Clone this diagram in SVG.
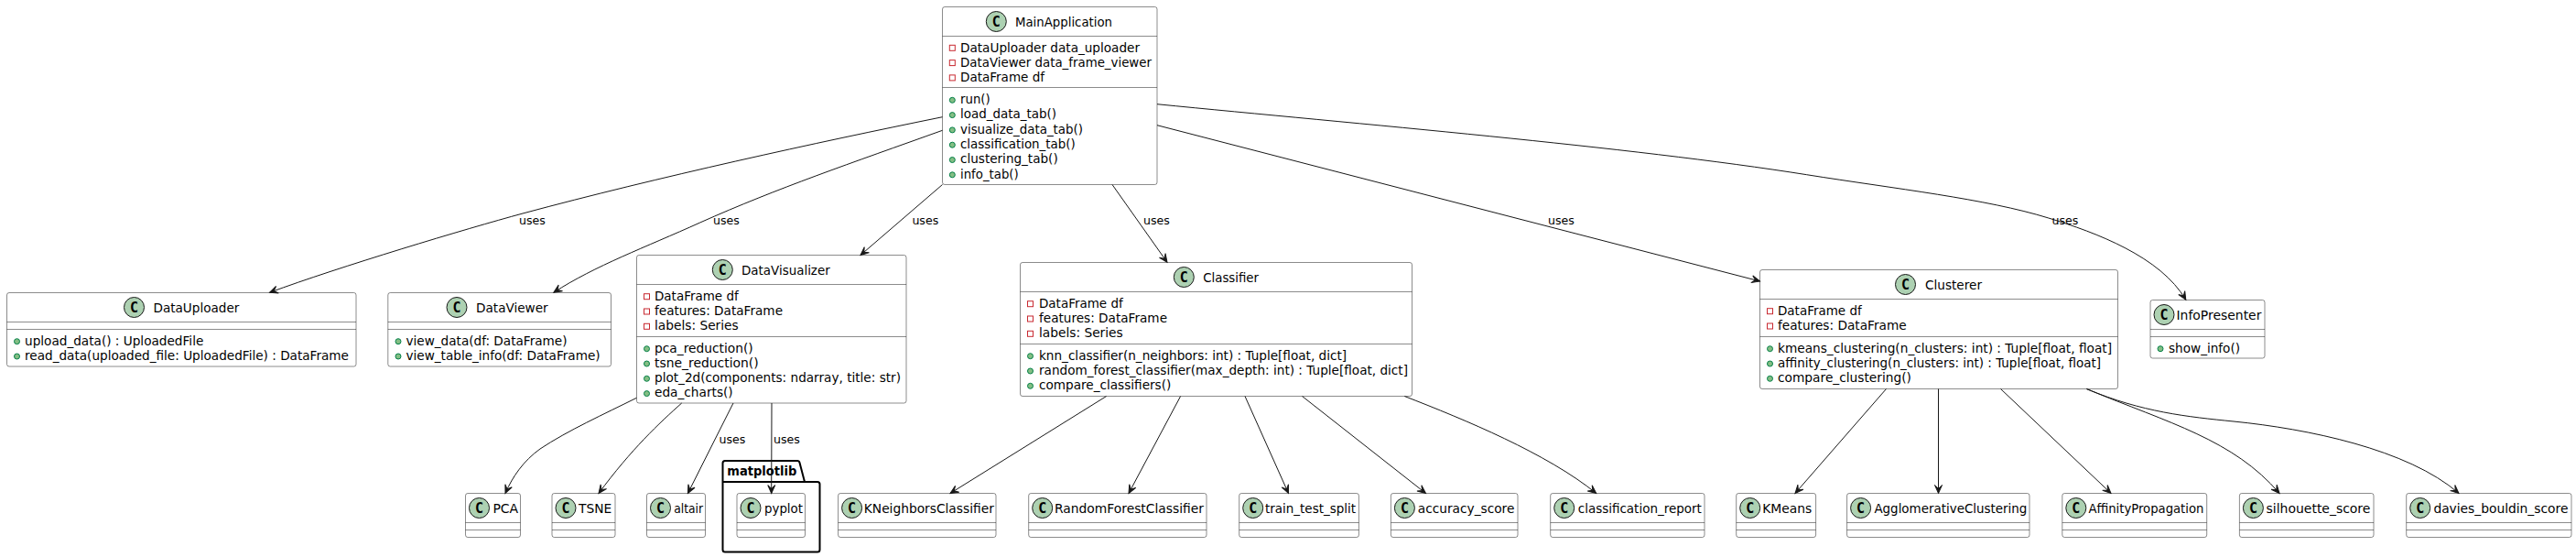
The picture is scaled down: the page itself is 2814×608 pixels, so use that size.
<svg xmlns="http://www.w3.org/2000/svg" width="2814" height="608" viewBox="0 0 2814 608">
<style>
text{font-family:"DejaVu Sans",sans-serif;font-size:13.6px;fill:#000}
.box{fill:#fff;stroke:#181818;stroke-width:.5}
.div{stroke:#181818;stroke-width:.5}
.spot{fill:#ADD1B2;stroke:#181818;stroke-width:1}
text.c{font-family:"DejaVu Sans Mono",monospace;font-weight:bold;font-size:15px;text-anchor:middle}
text.lbl{font-size:12.6px}
text.pk{font-weight:bold}
.pkg{fill:#fff;stroke:#000;stroke-width:2}
.edge{fill:none;stroke:#181818;stroke-width:1;marker-end:url(#arr)}
</style>
<defs>
<marker id="arr" markerUnits="userSpaceOnUse" markerWidth="12" markerHeight="10" refX="9" refY="4" orient="auto" overflow="visible"><path d="M9,4 L0,0 L4,4 L0,8 Z" fill="#181818" stroke="#181818" stroke-width="1"/></marker>
<rect id="priv" x="-3" y="-3" width="6" height="6" fill="none" stroke="#C82930" stroke-width="1"/>
<circle id="pub" r="3" fill="#84BE84" stroke="#038048" stroke-width="1"/>
</defs>

<g id="MainApplication">
<rect class="box" x="1029.5" y="7.5" width="234.5" height="194" rx="2.5"/>
<line class="div" x1="1029.5" x2="1264" y1="39.5" y2="39.5"/><line class="div" x1="1029.5" x2="1264" y1="95.5" y2="95.5"/>
<circle class="spot" cx="1088.3" cy="23.5" r="11"/><text class="c" x="1088.3" y="28.5">C</text>
<text x="1109" y="28.5" textLength="106" lengthAdjust="spacingAndGlyphs">MainApplication</text>
<use href="#priv" x="1040.3" y="52.3"/><text x="1049" y="56.5" textLength="196" lengthAdjust="spacingAndGlyphs">DataUploader data_uploader</text>
<use href="#priv" x="1040.3" y="68.6"/><text x="1049" y="72.8" textLength="209" lengthAdjust="spacingAndGlyphs">DataViewer data_frame_viewer</text>
<use href="#priv" x="1040.3" y="84.9"/><text x="1049" y="89.1" textLength="92" lengthAdjust="spacingAndGlyphs">DataFrame df</text>
<use href="#pub" x="1040.3" y="109.3"/><text x="1049" y="113" textLength="32.7" lengthAdjust="spacingAndGlyphs">run()</text>
<use href="#pub" x="1040.3" y="125.6"/><text x="1049" y="129.3" textLength="105" lengthAdjust="spacingAndGlyphs">load_data_tab()</text>
<use href="#pub" x="1040.3" y="141.9"/><text x="1049" y="145.6" textLength="134" lengthAdjust="spacingAndGlyphs">visualize_data_tab()</text>
<use href="#pub" x="1040.3" y="158.2"/><text x="1049" y="161.9" textLength="125.7" lengthAdjust="spacingAndGlyphs">classification_tab()</text>
<use href="#pub" x="1040.3" y="174.5"/><text x="1049" y="178.2" textLength="106.7" lengthAdjust="spacingAndGlyphs">clustering_tab()</text>
<use href="#pub" x="1040.3" y="190.8"/><text x="1049" y="194.5" textLength="63.7" lengthAdjust="spacingAndGlyphs">info_tab()</text>
</g>

<g id="DataUploader">
<rect class="box" x="7.5" y="319.5" width="381.5" height="80.5" rx="2.5"/>
<line class="div" x1="7.5" x2="389" y1="351.5" y2="351.5"/><line class="div" x1="7.5" x2="389" y1="359.5" y2="359.5"/>
<circle class="spot" cx="146.5" cy="335.5" r="11"/><text class="c" x="146.5" y="340.5">C</text>
<text x="167.5" y="340.5" textLength="93.8" lengthAdjust="spacingAndGlyphs">DataUploader</text>
<use href="#pub" x="18.5" y="372.7"/><text x="27" y="376.5" textLength="195.3" lengthAdjust="spacingAndGlyphs">upload_data() : UploadedFile</text>
<use href="#pub" x="18.5" y="389"/><text x="27" y="392.8" textLength="354" lengthAdjust="spacingAndGlyphs">read_data(uploaded_file: UploadedFile) : DataFrame</text>
</g>

<g id="DataViewer">
<rect class="box" x="423.8" y="319.5" width="243.7" height="80.5" rx="2.5"/>
<line class="div" x1="423.8" x2="667.5" y1="351.5" y2="351.5"/><line class="div" x1="423.8" x2="667.5" y1="359.5" y2="359.5"/>
<circle class="spot" cx="499" cy="335.5" r="11"/><text class="c" x="499" y="340.5">C</text>
<text x="520" y="340.5">DataViewer</text>
<use href="#pub" x="435" y="372.7"/><text x="443.5" y="376.5">view_data(df: DataFrame)</text>
<use href="#pub" x="435" y="389"/><text x="443.5" y="392.8">view_table_info(df: DataFrame)</text>
</g>

<g id="DataVisualizer">
<rect class="box" x="695.5" y="278.5" width="294.5" height="161.5" rx="2.5"/>
<line class="div" x1="695.5" x2="990" y1="310.5" y2="310.5"/><line class="div" x1="695.5" x2="990" y1="367.5" y2="367.5"/>
<circle class="spot" cx="789.3" cy="294.5" r="11"/><text class="c" x="789.3" y="299.5">C</text>
<text x="810" y="299.5" textLength="96.7" lengthAdjust="spacingAndGlyphs">DataVisualizer</text>
<use href="#priv" x="706.5" y="323.7"/><text x="715" y="327.5" textLength="91.7" lengthAdjust="spacingAndGlyphs">DataFrame df</text>
<use href="#priv" x="706.5" y="340"/><text x="715" y="343.8" textLength="140" lengthAdjust="spacingAndGlyphs">features: DataFrame</text>
<use href="#priv" x="706.5" y="356.3"/><text x="715" y="360.1" textLength="91.7" lengthAdjust="spacingAndGlyphs">labels: Series</text>
<use href="#pub" x="706.5" y="380.7"/><text x="715" y="384.5" textLength="107.7" lengthAdjust="spacingAndGlyphs">pca_reduction()</text>
<use href="#pub" x="706.5" y="397"/><text x="715" y="400.8" textLength="113.7" lengthAdjust="spacingAndGlyphs">tsne_reduction()</text>
<use href="#pub" x="706.5" y="413.3"/><text x="715" y="417.1" textLength="269" lengthAdjust="spacingAndGlyphs">plot_2d(components: ndarray, title: str)</text>
<use href="#pub" x="706.5" y="429.6"/><text x="715" y="433.4" textLength="85.7" lengthAdjust="spacingAndGlyphs">eda_charts()</text>
</g>

<g id="Classifier">
<rect class="box" x="1114.5" y="286.5" width="428" height="146" rx="2.5"/>
<line class="div" x1="1114.5" x2="1542.5" y1="318.5" y2="318.5"/><line class="div" x1="1114.5" x2="1542.5" y1="375.5" y2="375.5"/>
<circle class="spot" cx="1293.3" cy="302.5" r="11"/><text class="c" x="1293.3" y="307.5">C</text>
<text x="1314.3" y="307.5" textLength="60.7" lengthAdjust="spacingAndGlyphs">Classifier</text>
<use href="#priv" x="1125.5" y="331.7"/><text x="1135" y="335.5" textLength="91.7" lengthAdjust="spacingAndGlyphs">DataFrame df</text>
<use href="#priv" x="1125.5" y="348"/><text x="1135" y="351.8" textLength="140" lengthAdjust="spacingAndGlyphs">features: DataFrame</text>
<use href="#priv" x="1125.5" y="364.3"/><text x="1135" y="368.1" textLength="91.7" lengthAdjust="spacingAndGlyphs">labels: Series</text>
<use href="#pub" x="1125.5" y="388.7"/><text x="1135" y="392.5">knn_classifier(n_neighbors: int) : Tuple[float, dict]</text>
<use href="#pub" x="1125.5" y="405"/><text x="1135" y="408.8" textLength="403" lengthAdjust="spacingAndGlyphs">random_forest_classifier(max_depth: int) : Tuple[float, dict]</text>
<use href="#pub" x="1125.5" y="421.3"/><text x="1135" y="425.1" textLength="144.3" lengthAdjust="spacingAndGlyphs">compare_classifiers()</text>
</g>

<g id="Clusterer">
<rect class="box" x="1922.5" y="294.5" width="391" height="130" rx="2.5"/>
<line class="div" x1="1922.5" x2="2313.5" y1="326.5" y2="326.5"/><line class="div" x1="1922.5" x2="2313.5" y1="367.5" y2="367.5"/>
<circle class="spot" cx="2081.5" cy="310.5" r="11"/><text class="c" x="2081.5" y="315.5">C</text>
<text x="2103" y="315.5" textLength="62" lengthAdjust="spacingAndGlyphs">Clusterer</text>
<use href="#priv" x="1933.5" y="339.7"/><text x="1942" y="343.5" textLength="91.7" lengthAdjust="spacingAndGlyphs">DataFrame df</text>
<use href="#priv" x="1933.5" y="356"/><text x="1942" y="359.8" textLength="140.6" lengthAdjust="spacingAndGlyphs">features: DataFrame</text>
<use href="#pub" x="1933.5" y="380.7"/><text x="1942" y="384.5" textLength="365" lengthAdjust="spacingAndGlyphs">kmeans_clustering(n_clusters: int) : Tuple[float, float]</text>
<use href="#pub" x="1933.5" y="397"/><text x="1942" y="400.8" textLength="353" lengthAdjust="spacingAndGlyphs">affinity_clustering(n_clusters: int) : Tuple[float, float]</text>
<use href="#pub" x="1933.5" y="413.3"/><text x="1942" y="417.1" textLength="146" lengthAdjust="spacingAndGlyphs">compare_clustering()</text>
</g>

<g id="InfoPresenter">
<rect class="box" x="2349" y="327.5" width="125" height="63.5" rx="2.5"/>
<line class="div" x1="2349" x2="2474" y1="359.5" y2="359.5"/><line class="div" x1="2349" x2="2474" y1="367.5" y2="367.5"/>
<circle class="spot" cx="2364" cy="343.5" r="11"/><text class="c" x="2364" y="348.5">C</text>
<text x="2377.5" y="348.5" textLength="92.9" lengthAdjust="spacingAndGlyphs">InfoPresenter</text>
<use href="#pub" x="2360" y="380.7"/><text x="2369" y="384.5">show_info()</text>
</g>

<g id="matplotlib">
<path class="pkg" d="M789.5,526 V505.5 Q789.5,503 792,503 H871 Q873,503 873.5,505 L879,526 H893 Q895.5,526 895.5,528.5 V600 Q895.5,602.5 893,602.5 H792 Q789.5,602.5 789.5,600 Z M789.5,526 H879"/>
<text class="pk" x="794.3" y="518.5" textLength="76" lengthAdjust="spacingAndGlyphs">matplotlib</text>
</g>

<g id="PCA"><rect class="box" x="508.5" y="538.5" width="60" height="48" rx="2.5"/><line class="div" x1="508.5" x2="568.5" y1="570.5" y2="570.5"/><line class="div" x1="508.5" x2="568.5" y1="578.5" y2="578.5"/><circle class="spot" cx="523.5" cy="554.5" r="11"/><text class="c" x="523.5" y="559.5">C</text><text x="538.4" y="559.5" textLength="27.8" lengthAdjust="spacingAndGlyphs">PCA</text></g>
<g id="TSNE"><rect class="box" x="603" y="538.5" width="69" height="48" rx="2.5"/><line class="div" x1="603" x2="672" y1="570.5" y2="570.5"/><line class="div" x1="603" x2="672" y1="578.5" y2="578.5"/><circle class="spot" cx="618" cy="554.5" r="11"/><text class="c" x="618" y="559.5">C</text><text x="632" y="559.5" textLength="36.3" lengthAdjust="spacingAndGlyphs">TSNE</text></g>
<g id="altair"><rect class="box" x="706.5" y="538.5" width="64" height="48" rx="2.5"/><line class="div" x1="706.5" x2="770.5" y1="570.5" y2="570.5"/><line class="div" x1="706.5" x2="770.5" y1="578.5" y2="578.5"/><circle class="spot" cx="721.5" cy="554.5" r="11"/><text class="c" x="721.5" y="559.5">C</text><text x="736.3" y="559.5" textLength="31.8" lengthAdjust="spacingAndGlyphs">altair</text></g>
<g id="pyplot"><rect class="box" x="805" y="538.5" width="74.5" height="48" rx="2.5"/><line class="div" x1="805" x2="879.5" y1="570.5" y2="570.5"/><line class="div" x1="805" x2="879.5" y1="578.5" y2="578.5"/><circle class="spot" cx="820" cy="554.5" r="11"/><text class="c" x="820" y="559.5">C</text><text x="835" y="559.5" textLength="42" lengthAdjust="spacingAndGlyphs">pyplot</text></g>
<g id="KNeighborsClassifier"><rect class="box" x="915.6" y="538.5" width="172.4" height="48" rx="2.5"/><line class="div" x1="915.6" x2="1088" y1="570.5" y2="570.5"/><line class="div" x1="915.6" x2="1088" y1="578.5" y2="578.5"/><circle class="spot" cx="930.6" cy="554.5" r="11"/><text class="c" x="930.6" y="559.5">C</text><text x="943.8" y="559.5" textLength="142" lengthAdjust="spacingAndGlyphs">KNeighborsClassifier</text></g>
<g id="RandomForestClassifier"><rect class="box" x="1123.7" y="538.5" width="194.3" height="48" rx="2.5"/><line class="div" x1="1123.7" x2="1318" y1="570.5" y2="570.5"/><line class="div" x1="1123.7" x2="1318" y1="578.5" y2="578.5"/><circle class="spot" cx="1138.7" cy="554.5" r="11"/><text class="c" x="1138.7" y="559.5">C</text><text x="1152" y="559.5" textLength="163" lengthAdjust="spacingAndGlyphs">RandomForestClassifier</text></g>
<g id="train_test_split"><rect class="box" x="1353.7" y="538.5" width="130.7" height="48" rx="2.5"/><line class="div" x1="1353.7" x2="1484.4" y1="570.5" y2="570.5"/><line class="div" x1="1353.7" x2="1484.4" y1="578.5" y2="578.5"/><circle class="spot" cx="1368.7" cy="554.5" r="11"/><text class="c" x="1368.7" y="559.5">C</text><text x="1382" y="559.5" textLength="99" lengthAdjust="spacingAndGlyphs">train_test_split</text></g>
<g id="accuracy_score"><rect class="box" x="1519.4" y="538.5" width="138.6" height="48" rx="2.5"/><line class="div" x1="1519.4" x2="1658" y1="570.5" y2="570.5"/><line class="div" x1="1519.4" x2="1658" y1="578.5" y2="578.5"/><circle class="spot" cx="1534.4" cy="554.5" r="11"/><text class="c" x="1534.4" y="559.5">C</text><text x="1548.8" y="559.5" textLength="105.6" lengthAdjust="spacingAndGlyphs">accuracy_score</text></g>
<g id="classification_report"><rect class="box" x="1693.7" y="538.5" width="168.3" height="48" rx="2.5"/><line class="div" x1="1693.7" x2="1862" y1="570.5" y2="570.5"/><line class="div" x1="1693.7" x2="1862" y1="578.5" y2="578.5"/><circle class="spot" cx="1708.7" cy="554.5" r="11"/><text class="c" x="1708.7" y="559.5">C</text><text x="1723.8" y="559.5" textLength="135" lengthAdjust="spacingAndGlyphs">classification_report</text></g>
<g id="KMeans"><rect class="box" x="1896.7" y="538.5" width="86.9" height="48" rx="2.5"/><line class="div" x1="1896.7" x2="1983.6" y1="570.5" y2="570.5"/><line class="div" x1="1896.7" x2="1983.6" y1="578.5" y2="578.5"/><circle class="spot" cx="1911.7" cy="554.5" r="11"/><text class="c" x="1911.7" y="559.5">C</text><text x="1925.3" y="559.5" textLength="54" lengthAdjust="spacingAndGlyphs">KMeans</text></g>
<g id="AgglomerativeClustering"><rect class="box" x="2017.6" y="538.5" width="199.4" height="48" rx="2.5"/><line class="div" x1="2017.6" x2="2217" y1="570.5" y2="570.5"/><line class="div" x1="2017.6" x2="2217" y1="578.5" y2="578.5"/><circle class="spot" cx="2032.6" cy="554.5" r="11"/><text class="c" x="2032.6" y="559.5">C</text><text x="2047.4" y="559.5" textLength="167" lengthAdjust="spacingAndGlyphs">AgglomerativeClustering</text></g>
<g id="AffinityPropagation"><rect class="box" x="2252.8" y="538.5" width="157.9" height="48" rx="2.5"/><line class="div" x1="2252.8" x2="2410.7" y1="570.5" y2="570.5"/><line class="div" x1="2252.8" x2="2410.7" y1="578.5" y2="578.5"/><circle class="spot" cx="2267.8" cy="554.5" r="11"/><text class="c" x="2267.8" y="559.5">C</text><text x="2281.4" y="559.5" textLength="126" lengthAdjust="spacingAndGlyphs">AffinityPropagation</text></g>
<g id="silhouette_score"><rect class="box" x="2446.4" y="538.5" width="146.6" height="48" rx="2.5"/><line class="div" x1="2446.4" x2="2593" y1="570.5" y2="570.5"/><line class="div" x1="2446.4" x2="2593" y1="578.5" y2="578.5"/><circle class="spot" cx="2461.4" cy="554.5" r="11"/><text class="c" x="2461.4" y="559.5">C</text><text x="2475.6" y="559.5" textLength="113.8" lengthAdjust="spacingAndGlyphs">silhouette_score</text></g>
<g id="davies_bouldin_score"><rect class="box" x="2628.7" y="538.5" width="180.3" height="48" rx="2.5"/><line class="div" x1="2628.7" x2="2809" y1="570.5" y2="570.5"/><line class="div" x1="2628.7" x2="2809" y1="578.5" y2="578.5"/><circle class="spot" cx="2643.7" cy="554.5" r="11"/><text class="c" x="2643.7" y="559.5">C</text><text x="2658.4" y="559.5" textLength="147" lengthAdjust="spacingAndGlyphs">davies_bouldin_score</text></g>

<g id="connectors">
<path class="edge" d="M1029.5,127.7 C890,156 720,193 571,233 C510,249.5 370,291.4 294.5,319.3"/>
<path class="edge" d="M1029.5,142.3 C930,178 850,205 764.7,243 C705,270 650,290 604.8,319.3"/>
<path class="edge" d="M1029.5,201.5 L940,278.5"/>
<path class="edge" d="M1215,201.5 L1275,286.3"/>
<path class="edge" d="M1264,136.7 L1922.5,307"/>
<path class="edge" d="M1264,113.7 C1480,135 1780,160 1973.6,190.7 C2070,206 2170,217 2237.8,238 C2290,254 2360,280 2387.8,327.3"/>
<path class="edge" d="M695.4,434.3 C660,452 620,470 590,490 C572,503 560,520 552,538.5"/>
<path class="edge" d="M744.7,440 C720,462 690,490 654,538.5"/>
<path class="edge" d="M801,440 L751.4,538.5"/>
<path class="edge" d="M843,440 L842.7,538.5"/>
<path class="edge" d="M1208.6,432.5 L1038,538.5"/>
<path class="edge" d="M1289.6,432.5 L1233,538.5"/>
<path class="edge" d="M1360,432.5 L1407.5,538.5"/>
<path class="edge" d="M1422.5,432.5 L1557.5,538.5"/>
<path class="edge" d="M1534.3,432.5 C1600,458 1690,495 1743.7,538.5"/>
<path class="edge" d="M2060.5,424.5 L1961,538.5"/>
<path class="edge" d="M2117.5,424.5 L2117.5,538.5"/>
<path class="edge" d="M2185.5,424.5 L2306,538.5"/>
<path class="edge" d="M2279.3,424.5 C2370,462 2440,480 2490,538.5"/>
<path class="edge" d="M2279.3,424.5 C2340,450 2390,455 2440,460 C2520,468 2630,490 2686,538.5"/>
<text class="lbl" x="567" y="245">uses</text>
<text class="lbl" x="779" y="245">uses</text>
<text class="lbl" x="996.4" y="245">uses</text>
<text class="lbl" x="1249" y="245">uses</text>
<text class="lbl" x="1691" y="245">uses</text>
<text class="lbl" x="2241.5" y="245">uses</text>
<text class="lbl" x="785.5" y="484">uses</text>
<text class="lbl" x="845" y="484">uses</text>
</g>
</svg>
